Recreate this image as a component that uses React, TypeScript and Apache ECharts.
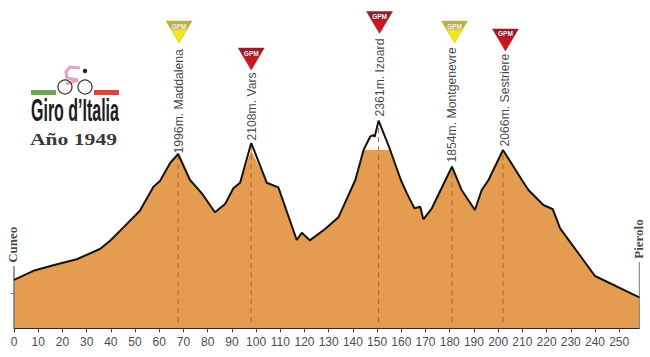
import React, { useEffect, useRef } from "react";
import * as echarts from "echarts";

// Stage profile: distance (km) and altitude (m)
const profileKm = [0, 8, 16.2, 25.9, 35.5, 39.7, 45.2, 52, 57.6, 60.3, 64.5, 67.8, 72.7, 77.6, 83, 87.2, 90.6, 93.4, 98, 104.4, 109.2, 116.8, 118.9, 122.2, 128.5, 134, 141, 144.4, 147.1, 148.3, 149, 150.6, 155.4, 159.8, 162.3, 165.4, 167.8, 169.1, 172.6, 180.9, 184.9, 190.4, 193.2, 196, 202, 209.8, 212.5, 218.7, 222.6, 225.6, 240, 258.3];
const profileAlt = [547, 650, 712, 780, 896, 990, 1141, 1329, 1600, 1664, 1868, 1970, 1676, 1525, 1311, 1405, 1582, 1645, 2094, 1645, 1593, 998, 1080, 994, 1122, 1254, 1676, 2015, 2165, 2184, 2165, 2346, 2015, 1676, 1525, 1356, 1374, 1232, 1356, 1826, 1563, 1337, 1563, 1676, 2015, 1676, 1563, 1393, 1345, 1130, 591, 350];
const fillCapAlt = 2015;

const passNames = ["1996m. Maddalena", "2108m. Vars", "2361m. Izoard", "1854m. Montgenevre", "2066m. Sestriere"];
const passKm = [67.8, 98, 150.6, 180.9, 202];
const labelKm = [68.2, 98.3, 151, 181, 203];
const labelAlt = [1970, 2116, 2388, 1868, 2049];
const markerKm = [68.2, 98, 151, 182, 203];
const markerAlt = [3348, 3043, 3456, 3348, 3258];
const markerCategory = [2, 1, 1, 2, 1];

const tickKm = [0, 10, 20, 30, 40, 50, 60, 70, 80, 90, 100, 110, 120, 130, 140, 150, 160, 170, 180, 190, 200, 210, 220, 230, 240, 250];
const startName = "Cuneo";
const endName = "Pierolo";
const startPoleAlt = 704;
const endPoleAlt = 750;
const endKm = 258.3;

const logoTitle = "Giro d’Italia";
const logoYear = "Año 1949";

export default function App() {
  const ref = useRef<HTMLDivElement>(null);
  useEffect(() => {
    document.body.style.margin = "0";
    const chart = echarts.init(ref.current!, null, { renderer: "svg" });
    const line = profileKm.map((k, i) => [k, profileAlt[i]]);
    const fill = profileKm.map((k, i) => [k, Math.min(profileAlt[i], fillCapAlt)]);
    const vLabel = (font: any) => ({
      show: true,
      position: "top",
      rotate: 90,
      align: "left",
      verticalAlign: "middle",
      distance: 0,
      ...font,
    });
    const grad = (top: string, bottom: string) =>
      new echarts.graphic.LinearGradient(0, 0, 0, 1, [
        { offset: 0, color: top },
        { offset: 0.3, color: top },
        { offset: 0.45, color: bottom },
        { offset: 1, color: bottom },
      ]);
    const series: any[] = [
      {
        type: "line", data: fill, showSymbol: false, silent: true,
        lineStyle: { width: 0 }, areaStyle: { color: "#e49d50", opacity: 1 }, z: 1,
      },
      ...passKm.map((k) => ({
        type: "line", data: [[k, 70], [k, profileAlt[profileKm.indexOf(k)]]], showSymbol: false, silent: true,
        lineStyle: { color: "#a5672f", width: 1, type: [5, 4] }, z: 2,
      })),
      {
        type: "line", data: [[0, 0], [0, startPoleAlt]], showSymbol: false, silent: true,
        lineStyle: { color: "#777777", width: 1.5 }, z: 3,
      },
      {
        type: "line", data: [[endKm, 0], [endKm, endPoleAlt]], showSymbol: false, silent: true,
        lineStyle: { color: "#777777", width: 1 }, z: 3,
      },
      {
        type: "line", data: line, showSymbol: false, silent: true,
        lineStyle: { color: "#1a1208", width: 2 }, z: 4,
      },
      {
        type: "scatter", silent: true, clip: false, symbol: "circle", symbolSize: 1,
        itemStyle: { color: "transparent" }, z: 5,
        data: passNames.map((n, i) => ({
          value: [labelKm[i], labelAlt[i]],
          label: vLabel({ formatter: n, fontFamily: "Liberation Sans", fontSize: 12.2, color: "#111111" }),
        })),
      },
      {
        type: "scatter", silent: true, clip: false, symbol: "circle", symbolSize: 1,
        itemStyle: { color: "transparent" }, z: 5,
        data: [
          { value: [-0.5, startPoleAlt + 30], label: vLabel({ formatter: startName, fontFamily: "Liberation Serif", fontWeight: "bold", fontSize: 13, color: "#111111" }) },
          { value: [endKm - 0.5, endPoleAlt + 30], label: vLabel({ formatter: endName, fontFamily: "Liberation Serif", fontWeight: "bold", fontSize: 13, color: "#111111" }) },
        ],
      },
      {
        type: "scatter", silent: true, clip: false,
        symbol: "path://M0 0L26 0L13 22Z", symbolSize: [26, 22], z: 6,
        data: markerKm.map((k, i) => {
          const yellow = markerCategory[i] === 2;
          return {
            value: [k, markerAlt[i]],
            itemStyle: {
              opacity: 1,
              color: yellow ? grad("#b9b04a", "#f2e51e") : grad("#8e2230", "#c9161f"),
              borderColor: yellow ? "#c4b92a" : "#a01a26",
              borderWidth: 0.5,
            },
            label: {
              show: true, position: "inside", offset: [0, -6], formatter: "GPM",
              fontFamily: "Liberation Sans", fontWeight: "bold", fontSize: 6.5, color: "#f4eeee",
            },
          };
        }),
      },
    ];
    chart.setOption({
      animation: false,
      backgroundColor: "#ffffff",
      grid: { left: 14, right: 10.7, top: 0, bottom: 28.7 },
      xAxis: {
        type: "value", min: 0, max: endKm, splitLine: { show: false },
        axisLine: { show: true, onZero: false, lineStyle: { color: "#222222", width: 1 } },
        axisTick: { show: true, customValues: tickKm, length: 4, lineStyle: { color: "#444444" } },
        axisLabel: {
          customValues: tickKm, margin: 8, fontFamily: "Liberation Sans", fontSize: 12, color: "#4f4a55",
          hideOverlap: false, showMinLabel: true, showMaxLabel: true,
        },
      },
      yAxis: {
        type: "value", min: 0, max: 3710, splitLine: { show: false },
        axisLine: { show: false },
        axisLabel: { show: false },
        axisTick: { show: true, customValues: [400], length: 3, lineStyle: { color: "#777777" } },
      },
      series,
      graphic: [
        { type: "rect", shape: { x: 31, y: 90, width: 25, height: 5 }, style: { fill: "#6fa65c" } },
        { type: "rect", shape: { x: 94, y: 90, width: 25, height: 5 }, style: { fill: "#d04a44" } },
        { type: "polyline", shape: { points: [[80, 68], [70, 67], [66, 72], [67, 78], [78, 80], [66, 84]] }, style: { fill: "none", stroke: "#e8a0bc", lineWidth: 3 } },
        { type: "circle", shape: { cx: 65, cy: 87, r: 7 }, style: { fill: "none", stroke: "#333333", lineWidth: 1.2 } },
        { type: "circle", shape: { cx: 85, cy: 87, r: 7 }, style: { fill: "none", stroke: "#333333", lineWidth: 1.2 } },
        { type: "circle", shape: { cx: 85, cy: 71, r: 2.2 }, style: { fill: "#222222" } },
        { type: "text", x: 31, y: 94, scaleX: 0.5, style: { text: logoTitle, font: "bold 32px 'Liberation Sans'", fill: "#1d1d1b", textAlign: "left", textVerticalAlign: "top" } },
        { type: "text", x: 30, y: 132, scaleX: 1.35, style: { text: logoYear, font: "bold 16px 'Liberation Serif'", fill: "#3a3a3a", textAlign: "left", textVerticalAlign: "top" } },
      ],
    });
    return () => chart.dispose();
  }, []);
  return <div ref={ref} style={{ width: 650, height: 357 }} />;
}
